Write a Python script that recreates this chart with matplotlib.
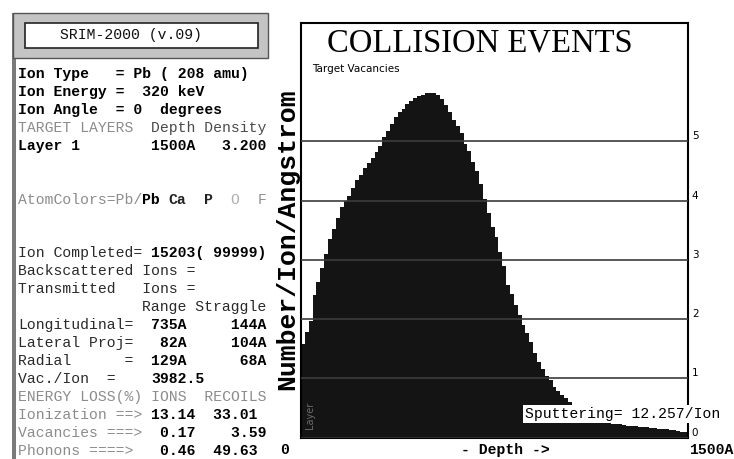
import matplotlib
matplotlib.use("Agg")
import matplotlib.pyplot as plt
from matplotlib.patches import Rectangle
import numpy as np

# target vacancies per 15 A depth bin (Number/Ion/Angstrom)
depth = np.arange(7.5, 1500, 15)
vacancies = [1.58, 1.78, 1.97, 2.40, 2.62, 2.87, 3.10, 3.35, 3.52, 3.71,
             3.90, 4.00, 4.08, 4.22, 4.35, 4.44, 4.55, 4.63, 4.72, 4.82,
             4.93, 5.08, 5.18, 5.29, 5.41, 5.49, 5.55, 5.63, 5.69, 5.74,
             5.77, 5.79, 5.81, 5.82, 5.82, 5.79, 5.71, 5.61, 5.49, 5.37,
             5.26, 5.15, 4.96, 4.83, 4.66, 4.50, 4.28, 4.03, 3.79, 3.56,
             3.38, 3.13, 2.90, 2.58, 2.42, 2.23, 2.07, 1.90, 1.76, 1.61,
             1.43, 1.27, 1.15, 1.04, 0.97, 0.86, 0.78, 0.71, 0.66, 0.60,
             0.55, 0.45, 0.38, 0.34, 0.31, 0.29, 0.27, 0.26, 0.25, 0.24,
             0.23, 0.22, 0.22, 0.21, 0.20, 0.20, 0.19, 0.18, 0.18, 0.17,
             0.16, 0.16, 0.15, 0.15, 0.14, 0.13, 0.12, 0.11, 0.10, 0.09]
yticks = [0, 1, 2, 3, 4, 5]
ytick_labels = ["0", "1", "2", "3", "4", "5"]

GRAY = "#8c8c8c"
DARK = "#2a2a2a"
# left info panel: (row, column, text, colour, weight)
panel = [
    (0, 0, "Ion Type   = Pb ( 208 amu)", "black", "bold"),
    (1, 0, "Ion Energy =  320 keV", "black", "bold"),
    (2, 0, "Ion Angle  = 0  degrees", "black", "bold"),
    (3, 0, "TARGET LAYERS", GRAY, "normal"),
    (3, 15, "Depth Density", "#4a4a4a", "normal"),
    (4, 0, "Layer 1", "black", "bold"),
    (4, 15, "1500A   3.200", "black", "bold"),
    (7, 0, "AtomColors=Pb/", GRAY, "normal"),
    (7, 14, "Pb", "black", "bold"),
    (7, 17, "Ca", "#222222", "bold"),
    (7, 21, "P", "#222222", "bold"),
    (7, 24, "O", "#b0b0b0", "normal"),
    (7, 27, "F", "#909090", "normal"),
    (10, 0, "Ion Completed=", DARK, "normal"),
    (10, 15, "15203( 99999)", "black", "bold"),
    (11, 0, "Backscattered Ions =", DARK, "normal"),
    (12, 0, "Transmitted   Ions =", DARK, "normal"),
    (13, 14, "Range Straggle", DARK, "normal"),
    (14, 0, "Longitudinal=", DARK, "normal"),
    (14, 15, "735A     144A", "black", "bold"),
    (15, 0, "Lateral Proj=", DARK, "normal"),
    (15, 16, "82A     104A", "black", "bold"),
    (16, 0, "Radial      =", DARK, "normal"),
    (16, 15, "129A      68A", "black", "bold"),
    (17, 0, "Vac./Ion  =", DARK, "normal"),
    (17, 15, "3982.5", "black", "bold"),
    (18, 0, "ENERGY LOSS(%) IONS  RECOILS", GRAY, "normal"),
    (19, 0, "Ionization ==>", GRAY, "normal"),
    (19, 15, "13.14  33.01", "black", "bold"),
    (20, 0, "Vacancies ===>", GRAY, "normal"),
    (20, 16, "0.17    3.59", "black", "bold"),
    (21, 0, "Phonons ====>", GRAY, "normal"),
    (21, 16, "0.46  49.63", "black", "bold"),
]

W, H = 734, 459
MONO = "Liberation Mono"
FS = 10.6


def fx(x):
    return x / W


def fy(y):
    return 1 - y / H


fig = plt.figure(figsize=(W / 100, H / 100), dpi=100)
fig.patch.set_facecolor("white")

# panel decoration
fig.add_artist(Rectangle((fx(12), 0), 4 / W, fy(13), transform=fig.transFigure,
                         facecolor="#7a7a7a", edgecolor="none"))
fig.add_artist(Rectangle((fx(13), fy(58)), 255 / W, 45 / H, transform=fig.transFigure,
                         facecolor="#c4c4c4", edgecolor="#555555", lw=1))
fig.add_artist(Rectangle((fx(25), fy(48)), 233 / W, 25 / H, transform=fig.transFigure,
                         facecolor="white", edgecolor="#222222", lw=1.2))
fig.text(fx(131), fy(35), "SRIM-2000 (v.09)", family=MONO, fontsize=FS,
         color="#111111", ha="center", va="center")

for row, col, txt, c, w in panel:
    fig.text(fx(18.3 + col * 8.85), fy(74 + row * 17.95), txt, family=MONO,
             fontsize=FS, color=c, weight=w, ha="left", va="center")

# plot
ax = fig.add_axes([fx(301), fy(437.5), 387 / W, (437.5 - 23) / H])
ax.bar(depth, vacancies, width=15, color="#141414", edgecolor="none")
ax.set_xlim(0, 1500)
ax.set_ylim(0, 7)
ax.set_xticks([])
ax.set_yticks(yticks)
ax.tick_params(axis="y", length=0, labelleft=False)
ax.set_axisbelow(False)
ax.grid(axis="y", color="#3c3c3c", lw=1.2)
for s in ax.spines.values():
    s.set_linewidth(1.5)
    s.set_color("black")

for v, lab in zip(yticks, ytick_labels):
    ax.text(1.01, v, lab, transform=ax.get_yaxis_transform(), ha="left",
            va="bottom", fontsize=7.5, family="DejaVu Sans", clip_on=False)

ax.text(868, 0.40, "Sputtering= 12.257/Ion", family=MONO, fontsize=FS,
        ha="left", va="center", clip_on=False, zorder=6,
        bbox=dict(facecolor="white", edgecolor="none", pad=1.5))

fig.text(fx(480), fy(43), "COLLISION EVENTS", family="Liberation Serif",
         fontsize=23.5, ha="center", va="center")
fig.text(fx(312), fy(69), "Target Vacancies", family="DejaVu Sans",
         fontsize=7.5, ha="left", va="center")
fig.text(fx(287), fy(239), "Number/Ion/Angstrom", family=MONO, weight="bold",
         fontsize=19, rotation=90, ha="center", va="center")
fig.text(fx(310), fy(415), "Layer", family="DejaVu Sans", fontsize=7,
         color="#6a6a6a", rotation=90, ha="center", va="center")
fig.text(fx(505), fy(450), "- Depth ->", family=MONO, weight="bold",
         fontsize=FS, ha="center", va="center")
fig.text(fx(285), fy(450), "0", family=MONO, weight="bold", fontsize=FS,
         ha="center", va="center")
fig.text(fx(689), fy(450), "1500A", family=MONO, weight="bold", fontsize=FS,
         ha="left", va="center")

fig.savefig("out.png", dpi=100)
